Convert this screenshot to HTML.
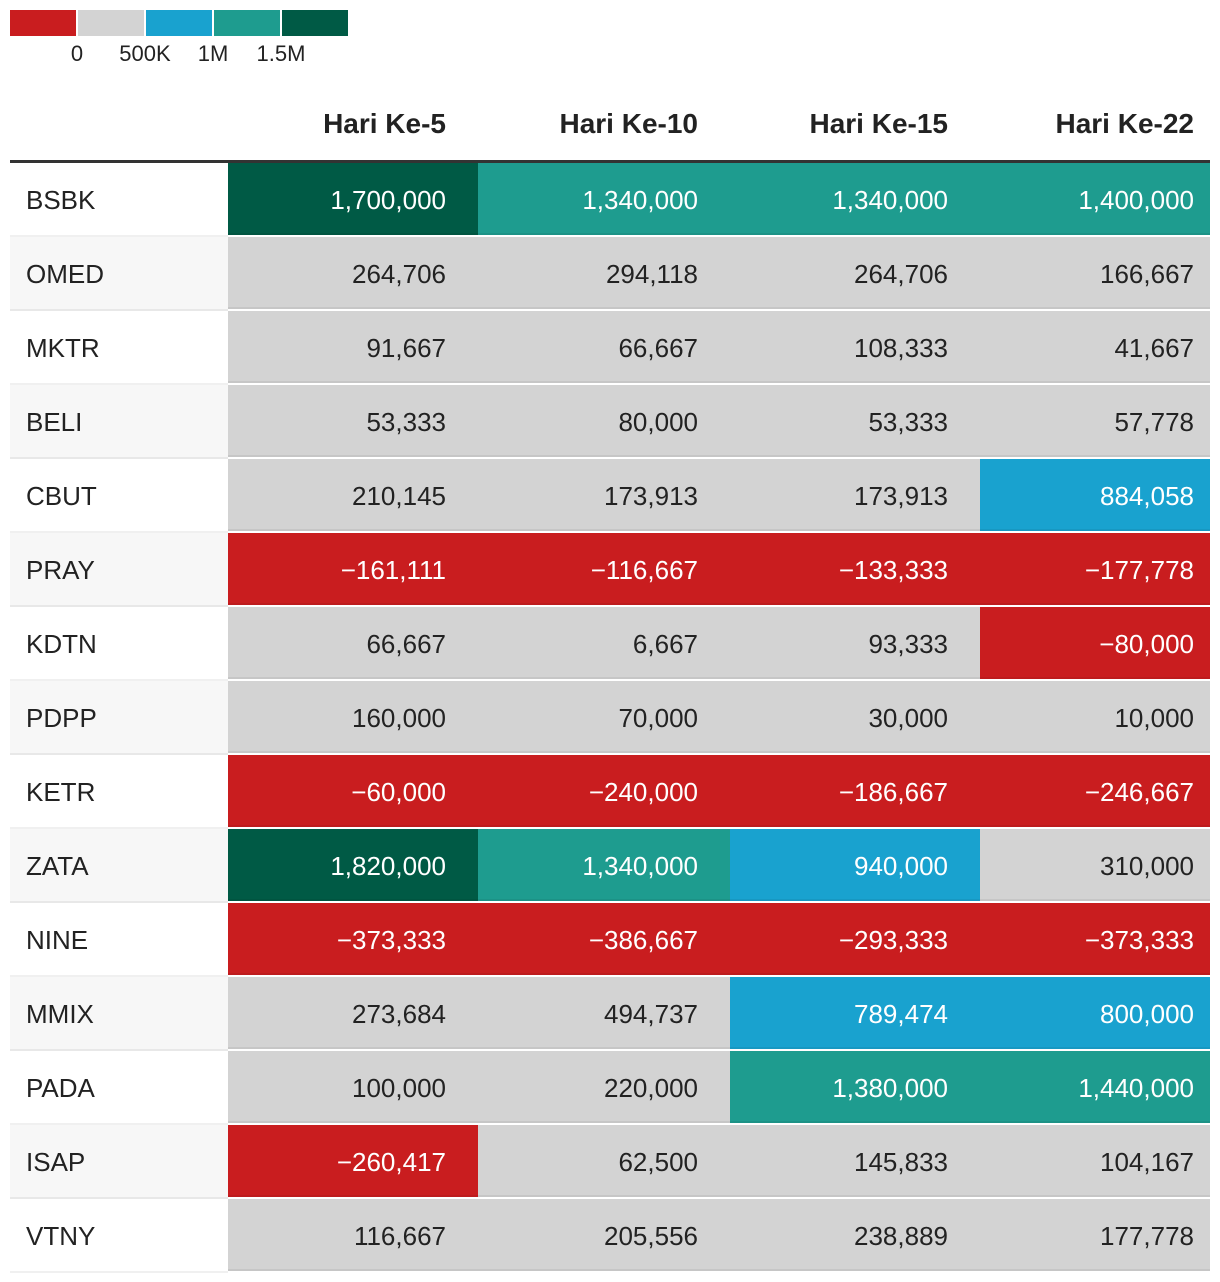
<!DOCTYPE html>
<html><head><meta charset="utf-8"><style>
body{margin:0;background:#fff;font-family:"Liberation Sans",Roboto,sans-serif;color:#222;width:1220px;height:1282px;position:relative;overflow:hidden}
.sw{position:absolute;top:10px;height:26px;width:66px}
.lg{position:absolute;top:41px;font-size:22px;transform:translateX(-50%);color:#222}
.hd{position:absolute;top:108px;font-size:28px;font-weight:bold;text-align:right}
#line{position:absolute;left:10px;top:160px;width:1200px;height:3px;background:#333}
.row{position:absolute;left:10px;width:1200px;height:74px}
.lab{position:absolute;left:0;top:0;width:218px;height:72px;border-bottom:2px solid rgba(0,0,0,0.06);font-size:26px;line-height:74px;padding-left:16px;box-sizing:content-box}
.cell{position:absolute;top:0;height:72px;border-bottom:2px solid rgba(0,0,0,0.06);font-size:26px;line-height:74px;text-align:right;box-sizing:border-box}
</style></head><body>
<div>
<div class="sw" style="left:10px;background:#c91d1f"></div>
<div class="sw" style="left:78px;background:#d3d3d3"></div>
<div class="sw" style="left:146px;background:#19a2cf"></div>
<div class="sw" style="left:214px;background:#1e9c8f"></div>
<div class="sw" style="left:282px;background:#005a45"></div>
<div class="lg" style="left:77px">0</div>
<div class="lg" style="left:145px">500K</div>
<div class="lg" style="left:213px">1M</div>
<div class="lg" style="left:281px">1.5M</div>
</div>
<div id="line"></div>
<div id="tbl"></div>
<script>
const columns=["Hari Ke-5","Hari Ke-10","Hari Ke-15","Hari Ke-22"];
const tickers=["BSBK","OMED","MKTR","BELI","CBUT","PRAY","KDTN","PDPP","KETR","ZATA","NINE","MMIX","PADA","ISAP","VTNY"];
const day5=[1700000,264706,91667,53333,210145,-161111,66667,160000,-60000,1820000,-373333,273684,100000,-260417,116667];
const day10=[1340000,294118,66667,80000,173913,-116667,6667,70000,-240000,1340000,-386667,494737,220000,62500,205556];
const day15=[1340000,264706,108333,53333,173913,-133333,93333,30000,-186667,940000,-293333,789474,1380000,145833,238889];
const day22=[1400000,166667,41667,57778,884058,-177778,-80000,10000,-246667,310000,-373333,800000,1440000,104167,177778];
const thresholds=[0,500000,1000000,1500000];
const colors=["#c91d1f","#d3d3d3","#19a2cf","#1e9c8f","#005a45"];
const series=[day5,day10,day15,day22];
const colL=[228,478,730,980,1210];
function pad(j){return j===columns.length-1?16:32;}
function color(v){let i=0;while(i<thresholds.length&&v>=thresholds[i])i++;return colors[i];}
function fmt(v){return (v<0?"\u2212":"")+Math.abs(v).toLocaleString("en-US");}
const body=document.body,tbl=document.getElementById('tbl');
columns.forEach((c,j)=>{const h=document.createElement('div');h.className='hd';


h.style.left=colL[j]+'px';h.style.width=(colL[j+1]-colL[j]-pad(j))+'px';h.textContent=c;body.appendChild(h);});
tickers.forEach((t,i)=>{const r=document.createElement('div');r.className='row';


r.style.top=(163+i*74)+'px';
const l=document.createElement('div');l.className='lab';


l.style.background=i%2?'#f7f7f7':'#fff';l.style.width='202px';l.textContent=t;r.appendChild(l);
series.forEach((s,j)=>{const v=s[i];const c=document.createElement('div');c.className='cell';


const bg=color(v);c.style.background=bg;c.style.color=bg==='#d3d3d3'?'#222':'#fff';
c.style.paddingRight=pad(j)+'px';
c.style.left=(colL[j]-10)+'px';c.style.width=(colL[j+1]-colL[j])+'px';c.textContent=fmt(v);r.appendChild(c);});
tbl.appendChild(r);});
</script>
</body></html>
